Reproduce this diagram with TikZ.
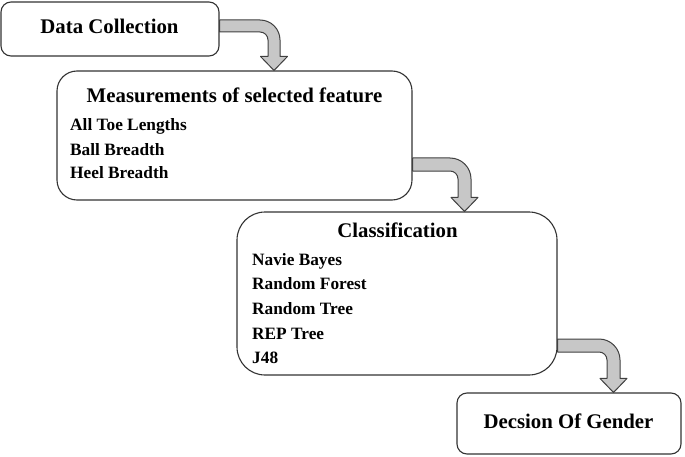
\documentclass[tikz,border=0pt]{standalone}
\usepackage{fontspec}
\setmainfont{Liberation Serif}
\usetikzlibrary{calc}
\tikzset{
  box/.style={draw=black!80, line width=1.1pt, fill=white, rectangle, inner sep=0pt},
  ttl/.style={font=\bfseries\fontsize{20.8}{24}\selectfont, inner sep=0pt, anchor=base},
  itm/.style={font=\bfseries\fontsize{17.3}{20}\selectfont, inner sep=0pt, anchor=base west},
  arrowband/.style={draw=black!75, line width=1pt, fill=black!22, line join=round}
}
\newcommand\bentarrow[5]{%
  \pgfmathsetmacro\baBy{#3-#5}%
  \pgfmathsetmacro\baCx{#4-8}%
  \pgfmathsetmacro\baCy{\baBy-8}%
  \pgfmathsetmacro\baXm{#4+#5/2}%
  \pgfmathsetmacro\baR{#5+8}%
  \pgfmathsetmacro\baHw{#5/2}%
  \coordinate (tip-#2) at (#2.north -| \baXm,0);
  \draw[arrowband] (#1.east |- 0,#3) -- (\baCx,#3)
     arc[start angle=90,end angle=0,radius=\baR]
     -- ($(tip-#2)+(\baHw,14)$) -- ($(tip-#2)+(13.5,14)$) -- (tip-#2)
     -- ($(tip-#2)+(-13.5,14)$) -- ($(tip-#2)+(-\baHw,14)$)
     -- (#4,\baCy) arc[start angle=0,end angle=90,radius=8]
     -- (#1.east |- 0,\baBy) -- cycle;
}
\begin{document}
\begin{tikzpicture}[x=1pt,y=1pt]
\useasboundingbox (0,0) rectangle (685,456);
% boxes
\node[box, rounded corners=10pt, minimum width=218pt, minimum height=54pt] (b1) at (110,427) {};
\node[box, rounded corners=20pt, minimum width=355pt, minimum height=129pt] (b2) at (234.5,320.5) {};
\node[box, rounded corners=28pt, minimum width=320pt, minimum height=163pt] (b3) at (397,162.5) {};
\node[box, rounded corners=10pt, minimum width=224pt, minimum height=61pt] (b4) at (569,32.5) {};
% arrows
\bentarrow{b1}{b2}{436}{268}{12}
\bentarrow{b2}{b3}{298}{458}{13}
\bentarrow{b3}{b4}{117}{607}{13}
% texts
\node[ttl] (t1) at (109.5,422) {Data Collection};
\node[ttl] (t2) at (234.5,353) {Measurements of selected feature};
\node[itm] (i21) at (70,325) {All Toe Lengths};
\node[itm] (i22) at (70,301) {Ball Breadth};
\node[itm] (i23) at (70,277) {Heel Breadth};
\node[ttl] (t3) at (397.5,219) {Classification};
\node[itm] (i31) at (252,191) {Navie Bayes};
\node[itm] (i32) at (252,166.3) {Random Forest};
\node[itm] (i33) at (252,141.6) {Random Tree};
\node[itm] (i34) at (252,117) {REP Tree};
\node[itm] (i35) at (252,92.2) {J48};
\node[ttl] (t4) at (568.5,28) {Decsion Of Gender};
\end{tikzpicture}
\end{document}
